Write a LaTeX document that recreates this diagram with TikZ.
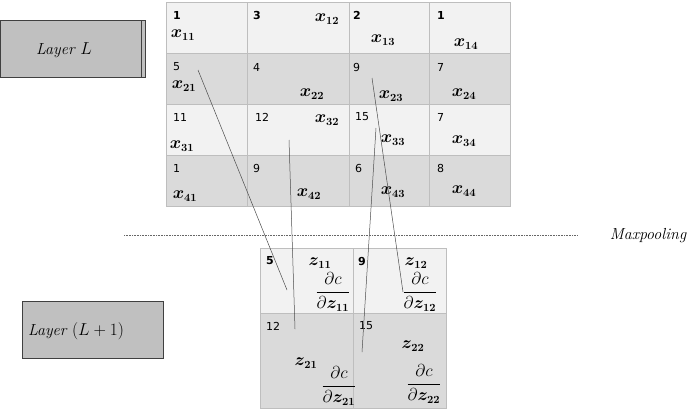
\documentclass[tikz,border=0pt]{standalone}
\usepackage{amsmath,amssymb}
\usepackage{bm}
\usepackage{fontspec}
\newfontfamily\numfont{DejaVu Sans}
\usetikzlibrary{positioning}
\definecolor{cellhi}{RGB}{242,242,242}
\definecolor{celllo}{RGB}{218,218,218}
\definecolor{gridline}{RGB}{190,190,190}
\definecolor{layergray}{RGB}{192,192,192}

\begin{document}
\begin{tikzpicture}[x=1pt,y=-1pt,
    num/.style={anchor=west,inner sep=0pt,font=\numfont\fontsize{11}{13}\selectfont},
    bnum/.style={anchor=west,inner sep=0pt,font=\numfont\bfseries\fontsize{11}{13}\selectfont},
    var/.style={inner sep=0pt,font=\fontsize{16}{18}\selectfont},
    lbl/.style={inner sep=0pt,font=\fontsize{16}{18}\selectfont\itshape},
    layerbox/.style={draw=black!75,fill=layergray,line width=0.9pt,anchor=north west},
    link/.style={draw=black!70,line width=0.5pt}]
  \useasboundingbox (0,0) rectangle (692,410);

  % layer L: 4x4 input
  \foreach \yt/\yb/\c in {2/53/cellhi,53/104/celllo,104/155/cellhi,155/206/celllo}
    \fill[\c] (166,\yt) rectangle (510,\yb);
  \foreach \xx in {247,349,429} \draw[gridline,line width=1pt] (\xx,2) -- (\xx,206);
  \foreach \yy in {53,104,155} \draw[gridline,line width=1pt] (166,\yy) -- (510,\yy);
  \draw[gridline,line width=1pt] (166,2) rectangle (510,206);

  \foreach \nm/\xx/\v in {n11/173/1,n12/253/3,n13/353/2,n14/437/1}
    \node[bnum] (\nm) at (\xx,15) {\v};
  \foreach \nm/\xx/\yy/\v in {n21/173/67/5,n22/253/67/4,n23/353/67/9,n24/437/67/7,
      n31/173/117/11,n32/255/117/12,n33/355/117/15,n34/437/117/7,
      n41/173/168/1,n42/253/168/9,n43/355/168/6,n44/437/168/8}
    \node[num] (\nm) at (\xx,\yy) {\v};

  \foreach \i/\xx/\yy in {11/183/35,12/327/19,13/383/40,14/466/44,
      21/184/86,22/312/94,23/391/96,24/464/94,
      31/182/146,32/327/120,33/393/140,34/464/141,
      41/185/196,42/309/194,43/393/192,44/464/191}
    \node[var] (x\i) at (\xx,\yy) {$\bm{x_{\i}}$};

  % layer L+1: 2x2 pooled output
  \fill[cellhi] (260,248) rectangle (446,313);
  \fill[celllo] (260,313) rectangle (446,408);
  \draw[gridline,line width=1pt] (353,248) -- (353,408);
  \draw[gridline,line width=1pt] (260,313) -- (446,313);
  \draw[gridline,line width=1pt] (260,248) rectangle (446,408);

  \node[bnum] (m11) at (266,261) {5};
  \node[bnum] (m12) at (358,261) {9};
  \node[num] (m21) at (266,326) {12};
  \node[num] (m22) at (359,326) {15};

  \foreach \i/\xx/\yy/\dx/\dy in {11/320/263/333/292,12/416/263/420/292,
      21/306/363/339/386,22/413/346/424/384}
    {\node[var] (z\i) at (\xx,\yy) {$\bm{z_{\i}}$};
     \node[var] (d\i) at (\dx,\dy) {$\dfrac{\partial c}{\partial \bm{z_{\i}}}$};}

  % which input wins each pool
  \coordinate (a21) at (198,70);  \coordinate (b11) at (287,290);
  \coordinate (a32) at (289,140); \coordinate (b21) at (295,329);
  \coordinate (a23) at (372,78);  \coordinate (b12) at (403,292);
  \coordinate (a33) at (376,128); \coordinate (b22) at (362,352);
  \draw[link] (a21) -- (b11);
  \draw[link] (a32) -- (b21);
  \draw[link] (a23) -- (b12);
  \draw[link] (a33) -- (b22);

  \draw[black!60,line width=0.6pt,dash pattern=on 0.6pt off 1pt] (124,235) -- (578,235);
  \node[lbl] (pool) at (648,236) {Maxpooling};

  \node[layerbox,minimum width=145pt,minimum height=57pt] (layerL) at (0,20) {};
  \draw[black!75,line width=0.9pt] ([xshift=-4pt]layerL.north east) -- ([xshift=-4pt]layerL.south east);
  \node[lbl] (tL) at (64,50) {Layer $L$};

  \node[layerbox,minimum width=141pt,minimum height=57pt] (layerL1) at (22,301) {};
  \node[lbl] (tL1) at (76,331) {Layer $(L+1)$};
\end{tikzpicture}
\end{document}
